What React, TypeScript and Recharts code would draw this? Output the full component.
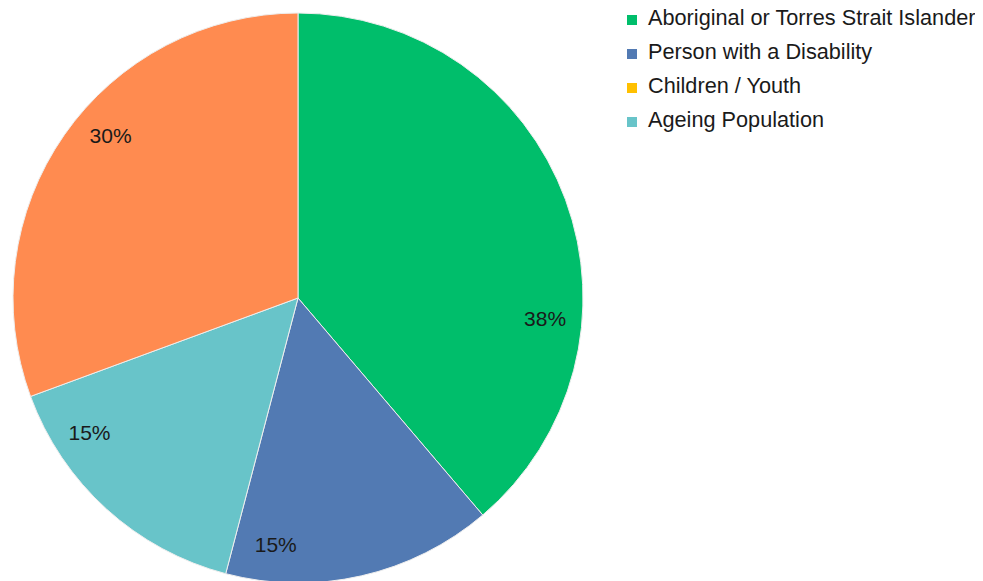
import React from "react";
import { PieChart, Pie, Cell, Legend } from "recharts";

const categories = [
  "Aboriginal or Torres Strait Islander",
  "Person with a Disability",
  "Children / Youth",
  "Ageing Population",
  "Other",
];
const values = [38, 15, 0, 15, 30];
const colors = ["#00BE6B", "#527AB3", "#FFC000", "#68C4C9", "#FF8B50"];
const legendItems = [
  "Aboriginal or Torres Strait Islander",
  "Person with a Disability",
  "Children / Youth",
  "Ageing Population",
];
// label placement style (angular shift from slice middle, degrees clockwise)
const labelShift = [25, 18, 0, 15, 6];

const data = categories.map((name, i) => ({ name, value: values[i] }));
const RAD = Math.PI / 180;
const FONT = "'Liberation Sans', Arial, Helvetica, sans-serif";

const renderLabel = (props: any) => {
  const { cx, cy, midAngle, outerRadius, index, value } = props;
  if (!value) return null;
  const a = (midAngle - labelShift[index]) * RAD;
  const r = outerRadius * 0.87;
  const x = cx + r * Math.cos(a);
  const y = cy - r * Math.sin(a);
  return (
    <text
      x={x}
      y={y}
      textAnchor="middle"
      dominantBaseline="central"
      fill="#1a1a1a"
      fontSize={21}
      fontFamily={FONT}
    >
      {`${value}%`}
    </text>
  );
};

const renderLegend = () => (
  <div style={{ fontFamily: FONT, fontSize: 21.7, color: "#1a1a1a" }}>
    {legendItems.map((name) => {
      const i = categories.indexOf(name);
      return (
        <div
          key={name}
          style={{ display: "flex", alignItems: "center", height: 34 }}
        >
          <span
            style={{
              display: "inline-block",
              width: 10,
              height: 10,
              background: colors[i],
              marginRight: 11,
              marginTop: 3,
            }}
          />
          <span>{name}</span>
        </div>
      );
    })}
  </div>
);

export default function App() {
  return (
    <div style={{ width: 975, height: 573 }}>
      <PieChart
        width={975}
        height={573}
        margin={{ top: 0, right: 0, bottom: 0, left: 0 }}
      >
        <Pie
          data={data}
          dataKey="value"
          nameKey="name"
          cx={290}
          cy={290}
          outerRadius={285}
          startAngle={90}
          endAngle={-270}
          stroke="#eeeeee"
          strokeWidth={1}
          label={renderLabel}
          labelLine={false}
          isAnimationActive={false}
        >
          {data.map((d, i) => (
            <Cell key={d.name} fill={colors[i]} />
          ))}
        </Pie>
        <Legend
          content={renderLegend}
          layout="vertical"
          verticalAlign="top"
          align="right"
          wrapperStyle={{ left: 619, top: -7, width: 356 }}
        />
      </PieChart>
    </div>
  );
}
